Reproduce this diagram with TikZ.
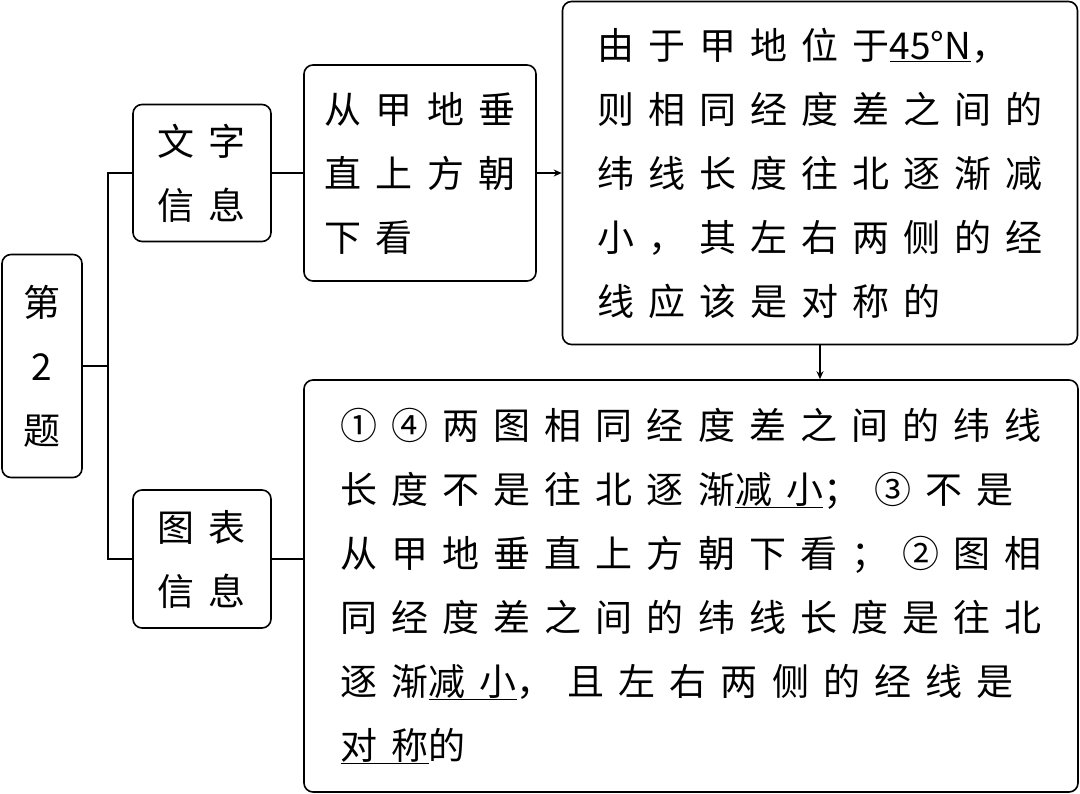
\documentclass[tikz,border=0pt]{standalone}
\usepackage{fontspec}
\setmainfont{Noto Sans CJK SC}
\usetikzlibrary{arrows.meta, positioning}
\tikzset{
  infobox/.style={draw=black, line width=1.6pt, rounded corners=9pt, inner sep=0pt, align=left,
    font=\fontsize{37pt}{64pt}\selectfont\addfontfeature{LetterSpace=38}},
  link/.style={line width=1.4pt},
  arrowlink/.style={line width=1.4pt, -{Stealth[length=8pt,width=7pt]}}
}
\newcommand{\latn}[1]{{\addfontfeature{LetterSpace=0}#1}}
\begin{document}
\begin{tikzpicture}[x=1pt, y=-1pt]
    \useasboundingbox (0,0) rectangle (1080,794);
    % Boxes
    \node[infobox, minimum width=80pt, minimum height=223pt, align=center] (ti) at (42,366) {第\\2\\题};
    \node[infobox, minimum width=138pt, minimum height=137pt] (wz) at (202,173) {文字\\信息};
    \node[infobox, minimum width=138pt, minimum height=138pt] (tb) at (202,559) {图表\\信息};
    \node[infobox, minimum width=232pt, minimum height=216pt] (cz) at (420,173) {从甲地垂\\直上方朝\\下看};
    \node[infobox, minimum width=515pt, minimum height=343pt] (yu) at (820,173)
        {由于甲地位于\underline{\latn{45°N}}，\\则相同经度差之间的\\纬线长度往北逐渐减\\小，其左右两侧的经\\线应该是对称的};
    \node[infobox, minimum width=774pt, minimum height=412pt] (bt) at (691,586)
        {①④两图相同经度差之间的纬线\\长度不是往北逐渐\underline{减小}；③不是\\从甲地垂直上方朝下看；②图相\\同经度差之间的纬线长度是往北\\逐渐\underline{减小}，且左右两侧的经线是\\\underline{对称}的};
    % Connectors
    \draw[link] (ti.east) -- ([xshift=25pt]ti.east) coordinate (jn);
    \draw[link] (wz.west) -| (jn) |- (tb.west);
    \draw[link] (wz.east) -- (wz.east -| cz.west);
    \draw[link] (tb.east) -- (tb.east -| bt.west);
    \draw[arrowlink] (cz.east) -- (cz.east -| yu.west);
    \draw[arrowlink] (yu.south) -- (yu.south |- bt.north);
\end{tikzpicture}
\end{document}
